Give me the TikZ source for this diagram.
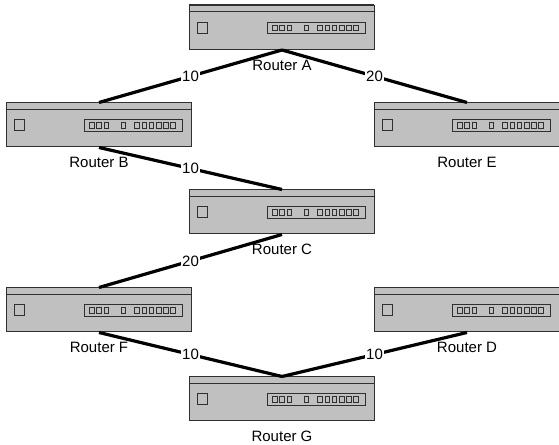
\documentclass[tikz,border=0pt]{standalone}
\usepackage{fontspec}
\setmainfont{Liberation Sans}
\usepackage{xcolor}
\usetikzlibrary{positioning,calc}

\definecolor{boxgray}{RGB}{192,192,192}
\definecolor{edgegray}{RGB}{48,48,48}

\begin{document}
\begin{tikzpicture}[x=1bp,y=1bp,
  font=\fontsize{15bp}{17bp}\selectfont,
  router/.style={rectangle, draw=edgegray, line width=1bp, fill=boxgray,
    minimum width=185bp, minimum height=44bp, inner sep=0pt},
  rname/.style={inner sep=0pt, text height=10.5bp, text depth=0pt},
  link/.style={line width=3.2bp, black},
  cost/.style={fill=white, inner sep=1.2bp, text height=10.5bp, text depth=0pt}]

\useasboundingbox (0,0) rectangle (559,445);

\node[router] (A) at (282,417.5) {};
\node[router] (B) at (99,320) {};
\node[router] (E) at (467,320) {};
\node[router] (C) at (282,233) {};
\node[router] (F) at (99,135) {};
\node[router] (D) at (467,135) {};
\node[router] (G) at (282,46) {};

% front panel of each router
\foreach \r in {A,B,C,D,E,F,G} {
  \begin{scope}[shift={(\r.north west)}, draw=edgegray, line width=0.9bp]
    \draw[line width=1.6bp] (0,0) -- (185,0);
    \draw (0,-6.5) -- (185,-6.5);
    \draw (8.5,-17) rectangle (18.5,-28);
    \draw (78.5,-17) rectangle (176.5,-28.5);
    \foreach \px in {83.5,90.8,98.1,115.2,128.8,136,143.2,150.4,157.6,164.8}
      \draw (\px,-20.3) rectangle ++(4.6,-5.4);
  \end{scope}
}

\node[rname, below=9.5bp of A] (labA) {Router A};
\node[rname, below=9.5bp of B] (labB) {Router B};
\node[rname, below=9.5bp of E] (labE) {Router E};
\node[rname, below=9.5bp of C] (labC) {Router C};
\node[rname, below=9.5bp of F] (labF) {Router F};
\node[rname, below=9.5bp of D] (labD) {Router D};
\node[rname, below=9.5bp of G] (labG) {Router G};

% links with costs
\draw[link] (A.south) -- node[cost] {10} (B.north);
\draw[link] (A.south) -- node[cost] {20} (E.north);
\draw[link] (B.south) -- node[cost] {10} (C.north);
\draw[link] (C.south) -- node[cost] {20} (F.north);
\draw[link] (F.south) -- node[cost] {10} (G.north);
\draw[link] (D.south) -- node[cost] {10} (G.north);
\end{tikzpicture}
\end{document}
